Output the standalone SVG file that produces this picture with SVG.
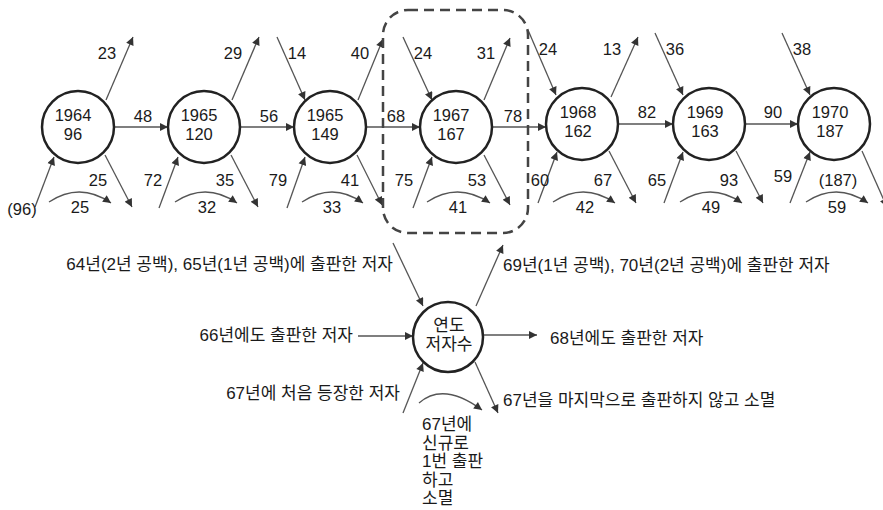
<svg xmlns="http://www.w3.org/2000/svg" width="883" height="510" viewBox="0 0 883 510">
<defs>
<marker id="ah" viewBox="0 0 10 10" refX="10" refY="5" markerWidth="9" markerHeight="8" markerUnits="userSpaceOnUse" orient="auto">
<path d="M0,0 L10,5 L0,10 z" fill="#333"/>
</marker>
<style>
text{font-family:"Liberation Sans","Noto Sans CJK KR",sans-serif;font-size:16.5px;fill:#1a1a1a}
.k{font-size:17px}
.m{text-anchor:middle}
.e{text-anchor:end}
.node circle{fill:#fff;stroke:#222;stroke-width:2.5}
#connectors line,#connectors path{stroke:#555;stroke-width:1.3;fill:none;marker-end:url(#ah)}
.dash{fill:none;stroke:#444;stroke-width:2.5;stroke-dasharray:10 6}
</style>
</defs>
<rect width="883" height="510" fill="#fff"/>

<g id="connectors">
<!-- C1 -->
<line x1="106" y1="100" x2="133" y2="37"/>
<line x1="114" y1="127" x2="168" y2="127"/>
<line x1="105" y1="155" x2="132" y2="207"/>
<line x1="35" y1="207" x2="54" y2="157"/>
<path d="M49,202 Q80,181.5 111,203"/>
<!-- C2 -->
<line x1="232" y1="100" x2="259" y2="37"/>
<line x1="240" y1="127" x2="294" y2="127"/>
<line x1="231" y1="155" x2="258" y2="207"/>
<line x1="159" y1="208" x2="178" y2="157"/>
<path d="M175,202 Q206,181.5 237,203"/>
<!-- C3 -->
<line x1="277" y1="37" x2="305" y2="100"/>
<line x1="358" y1="100" x2="383" y2="39"/>
<line x1="366" y1="127" x2="420" y2="127"/>
<line x1="357" y1="155" x2="382" y2="205"/>
<line x1="287" y1="208" x2="305" y2="157"/>
<path d="M302,202 Q333,181.5 363,203"/>
<!-- C4 -->
<line x1="403" y1="37" x2="432" y2="100"/>
<line x1="484" y1="100" x2="510" y2="38"/>
<line x1="492" y1="127" x2="546" y2="127"/>
<line x1="484" y1="155" x2="510" y2="205"/>
<line x1="413" y1="208" x2="432" y2="157"/>
<path d="M427,202 Q458,181.5 490,203"/>
<!-- C5 -->
<line x1="528" y1="30" x2="556" y2="95"/>
<line x1="611" y1="97" x2="638" y2="37"/>
<line x1="618" y1="124" x2="673" y2="124"/>
<line x1="609" y1="151" x2="636" y2="203"/>
<line x1="538" y1="203" x2="557" y2="152"/>
<path d="M553,202 Q584,181.5 615,203"/>
<!-- C6 -->
<line x1="655" y1="33" x2="683" y2="95"/>
<line x1="745" y1="124" x2="798" y2="124"/>
<line x1="736" y1="151" x2="763" y2="203"/>
<line x1="664" y1="203" x2="683" y2="152"/>
<path d="M680,202 Q711,181.5 742,203"/>
<!-- C7 -->
<line x1="782" y1="33" x2="810" y2="95"/>
<line x1="862" y1="151" x2="887" y2="207"/>
<line x1="790" y1="203" x2="810" y2="152"/>
<path d="M806,202 Q837,181.5 868,203"/>
<!-- bottom -->
<line x1="393" y1="243" x2="423" y2="306"/>
<line x1="476" y1="306" x2="503" y2="245"/>
<line x1="358" y1="336" x2="413" y2="336"/>
<line x1="483" y1="335" x2="537" y2="335"/>
<line x1="403" y1="413" x2="423" y2="363"/>
<line x1="475" y1="362" x2="498" y2="413"/>
<path d="M419,403 Q443.5,381.5 482,410"/>
</g>

<rect class="dash" x="383" y="10" width="145" height="223" rx="25"/>

<g id="n1964" class="node"><circle cx="78" cy="127" r="36"/><text class="m" x="73" y="121">1964</text><text class="m" x="73" y="140">96</text></g>
<g id="n1965a" class="node"><circle cx="204" cy="127" r="36"/><text class="m" x="199" y="121">1965</text><text class="m" x="199" y="140">120</text></g>
<g id="n1965b" class="node"><circle cx="330" cy="127" r="36"/><text class="m" x="325" y="121">1965</text><text class="m" x="325" y="140">149</text></g>
<g id="n1967" class="node"><circle cx="456" cy="127" r="36"/><text class="m" x="451" y="121">1967</text><text class="m" x="451" y="140">167</text></g>
<g id="n1968" class="node"><circle cx="582" cy="124" r="36"/><text class="m" x="578" y="118">1968</text><text class="m" x="578" y="137">162</text></g>
<g id="n1969" class="node"><circle cx="709" cy="124" r="36"/><text class="m" x="705" y="118">1969</text><text class="m" x="705" y="137">163</text></g>
<g id="n1970" class="node"><circle cx="834" cy="124" r="36"/><text class="m" x="830" y="118">1970</text><text class="m" x="830" y="137">187</text></g>
<g id="nyear" class="node"><circle cx="448" cy="337" r="35"/><text class="m k" x="449" y="331">연도</text><text class="m k" x="449" y="350">저자수</text></g>

<g id="labels">
<text class="m" x="107" y="59">23</text>
<text class="m" x="143" y="122">48</text>
<text class="m" x="98" y="186">25</text>
<text class="m" x="22" y="215">(96)</text>
<text class="m" x="80" y="213">25</text>
<text class="m" x="233" y="59">29</text>
<text class="m" x="269" y="122">56</text>
<text class="m" x="225" y="186">35</text>
<text class="m" x="153" y="186">72</text>
<text class="m" x="207" y="213">32</text>
<text class="m" x="297" y="59">14</text>
<text class="m" x="360" y="59">40</text>
<text class="m" x="396" y="122">68</text>
<text class="m" x="350" y="186">41</text>
<text class="m" x="278" y="186">79</text>
<text class="m" x="332" y="213">33</text>
<text class="m" x="423" y="59">24</text>
<text class="m" x="486" y="59">31</text>
<text class="m" x="513" y="122">78</text>
<text class="m" x="477" y="186">53</text>
<text class="m" x="404" y="186">75</text>
<text class="m" x="458" y="213">41</text>
<text class="m" x="548" y="55">24</text>
<text class="m" x="612" y="55">13</text>
<text class="m" x="647" y="118">82</text>
<text class="m" x="603" y="186">67</text>
<text class="m" x="540" y="186">60</text>
<text class="m" x="585" y="213">42</text>
<text class="m" x="675" y="55">36</text>
<text class="m" x="773" y="118">90</text>
<text class="m" x="729" y="186">93</text>
<text class="m" x="657" y="186">65</text>
<text class="m" x="711" y="213">49</text>
<text class="m" x="802" y="55">38</text>
<text class="m" x="783" y="182">59</text>
<text class="m" x="838" y="186">(187)</text>
<text class="m" x="837" y="213">59</text>

<text class="e k" x="393" y="270">64년(2년 공백), 65년(1년 공백)에 출판한 저자</text>
<text class="e k" x="353" y="341">66년에도 출판한 저자</text>
<text class="e k" x="400" y="399">67년에 처음 등장한 저자</text>
<text class="k" x="503" y="271">69년(1년 공백), 70년(2년 공백)에 출판한 저자</text>
<text class="k" x="550" y="344">68년에도 출판한 저자</text>
<text class="k" x="503" y="406">67년을 마지막으로 출판하지 않고 소멸</text>
<text class="k" x="422" y="430">67년에</text>
<text class="k" x="422" y="448.5">신규로</text>
<text class="k" x="422" y="467">1번 출판</text>
<text class="k" x="422" y="485.5">하고</text>
<text class="k" x="422" y="504">소멸</text>
</g>
</svg>
